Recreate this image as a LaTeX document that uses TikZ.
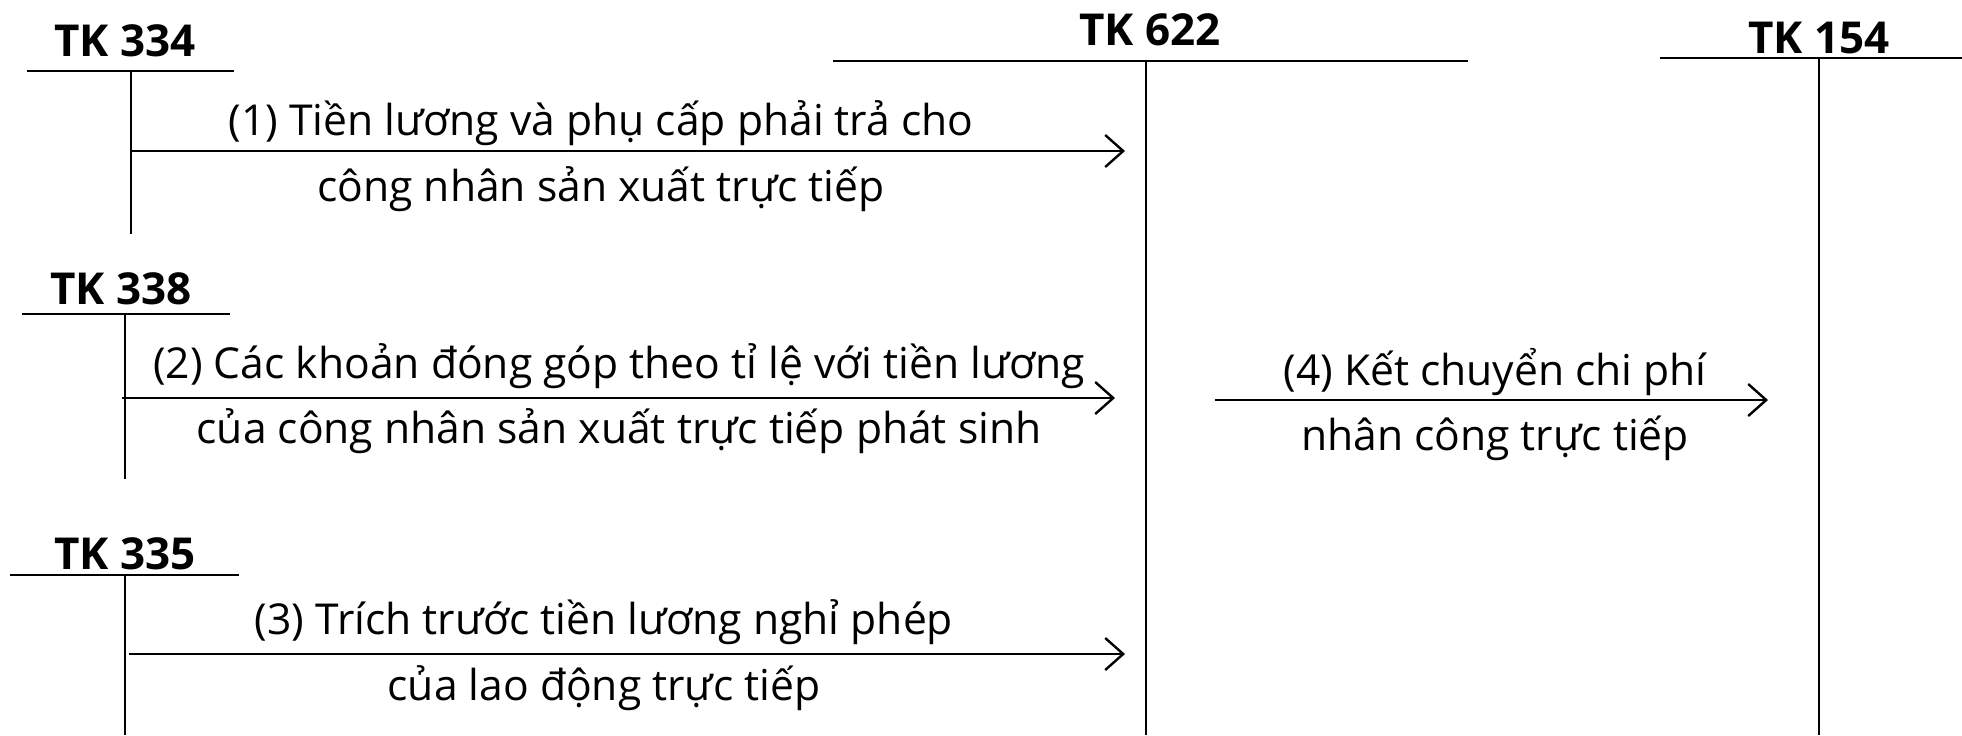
\documentclass[tikz,border=0pt]{standalone}
\usepackage{fontspec}
\setmainfont{Open Sans}
\usetikzlibrary{arrows.meta}
\begin{document}
\begin{tikzpicture}[x=0.5pt,y=-0.5pt,
  acct/.style={font=\fontsize{22}{26}\selectfont\bfseries, inner sep=0pt},
  lbl/.style={font=\fontsize{21.3}{25}\selectfont, inner sep=0pt},
  tline/.style={line width=1.3pt},
  flow/.style={line width=1.2pt, -{Straight Barb[length=9pt,width=16pt,line width=1.2pt]}}]
\useasboundingbox (0,0) rectangle (1962,735);

% account titles
\node[acct] (t334) at (125,41) {TK 334};
\node[acct] (t338) at (121,289) {TK 338};
\node[acct] (t335) at (125,554) {TK 335};
\node[acct] (t622) at (1150,30) {TK 622};
\node[acct] (t154) at (1819,38) {TK 154};

% T-account frames
\draw[tline] (27,71) -- (234,71);
\draw[tline] (131,71) coordinate (a334) -- (131,234);
\draw[tline] (22,314) -- (230,314);
\draw[tline] (125,314) coordinate (a338) -- (125,479);
\draw[tline] (10,575) -- (239,575);
\draw[tline] (125,575) coordinate (a335) -- (125,735);
\draw[tline] (833,61) -- (1468,61);
\draw[tline] (1146,61) coordinate (a622) -- (1146,735);
\draw[tline] (1660,58) -- (1962,58);
\draw[tline] (1819,58) coordinate (a154) -- (1819,735);

% connector end points
\coordinate (s1) at (131,151);  \coordinate (e1) at (1125,151);
\coordinate (s2) at (122,398);  \coordinate (e2) at (1115,398);
\coordinate (s3) at (129,654);  \coordinate (e3) at (1125,654);
\coordinate (s4) at (1215,400); \coordinate (e4) at (1768,400);

\draw[flow] (s1) -- (e1);
\draw[flow] (s2) -- (e2);
\draw[flow] (s3) -- (e3);
\draw[flow] (s4) -- (e4);

% flow labels
\node[lbl] (l1a) at (601,123) {(1) Tiền lương và phụ cấp phải trả cho};
\node[lbl] (l1b) at (601,189) {công nhân sản xuất trực tiếp};
\node[lbl] (l2a) at (619,366) {(2) Các khoản đóng góp theo tỉ lệ với tiền lương};
\node[lbl] (l2b) at (619,431) {của công nhân sản xuất trực tiếp phát sinh};
\node[lbl] (l3a) at (604,622) {(3) Trích trước tiền lương nghỉ phép};
\node[lbl] (l3b) at (604,688) {của lao động trực tiếp};
\node[lbl] (l4a) at (1495,372) {(4) Kết chuyển chi phí};
\node[lbl] (l4b) at (1495,438) {nhân công trực tiếp};
\end{tikzpicture}
\end{document}
